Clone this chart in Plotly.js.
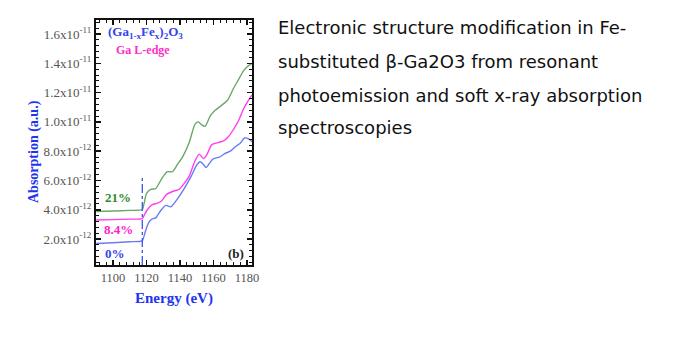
<!DOCTYPE html>
<html>
<head>
<meta charset="utf-8">
<script src="https://cdn.plot.ly/plotly-3.0.1.min.js"></script>
<style>
html,body{margin:0;padding:0;background:#fff;}
#chart{width:691px;height:358px;}
</style>
</head>
<body>
<div id="chart"></div>
<script>
// Energy (eV) and absorption (units of 1e-12)
const energy0 = [1090,1100,1110,1117.5,1118.5,1120,1121.5,1123,1125.5,1128.5,1131.5,1134.5,1138.5,1142.5,1146.5,1150,1152,1154,1155.5,1157.5,1159.5,1163.5,1167,1170,1173,1176,1178.5,1181,1183];
const abs0    = [1.70,1.75,1.82,1.88,2.2,2.75,3.15,3.35,3.45,3.95,4.3,4.2,4.75,5.45,6.25,7.05,7.28,7.1,6.88,7.15,7.45,7.6,7.85,8.0,8.3,8.55,8.9,8.85,8.65];

const energy84 = [1090,1100,1110,1117.5,1118.5,1120.5,1123.5,1126.5,1129,1132,1135.5,1139.5,1142.5,1145.5,1149,1151.5,1154,1156,1159,1163,1166,1169,1172,1175,1178,1180.5,1183];
const abs84    = [3.30,3.33,3.36,3.40,3.6,4.0,4.35,4.45,4.6,5.05,5.25,5.4,5.8,6.3,7.35,7.8,7.5,7.75,8.45,8.6,8.7,9.0,9.5,10.1,10.9,11.4,11.85];

const energy21 = [1090,1100,1110,1117.5,1118.5,1120,1122.5,1125.5,1129.5,1132.5,1135.5,1138.5,1141.5,1145.5,1149,1151,1153,1155,1158,1161,1164.5,1168.5,1172,1175,1178,1181,1183];
const abs21    = [3.88,3.92,3.96,4.02,4.4,5.1,5.4,5.45,6.2,6.6,6.6,7.1,7.6,8.6,9.85,10.0,9.8,9.7,10.4,10.8,11.1,11.5,12.3,12.9,13.5,13.85,14.0];

const edgeX = [1117.5,1117.5];
const edgeY = [0.23,6.2];

const yTickVals = [2,4,6,8,10,12,14,16];
const yTickText = ["2.0x10<sup>-12</sup>","4.0x10<sup>-12</sup>","6.0x10<sup>-12</sup>","8.0x10<sup>-12</sup>",
                   "1.0x10<sup>-11</sup>","1.2x10<sup>-11</sup>","1.4x10<sup>-11</sup>","1.6x10<sup>-11</sup>"];
const xTickVals = [1100,1120,1140,1160,1180];

const titleLines = ["Electronic structure modification in Fe-",
                    "substituted \u03B2-Ga2O3 from resonant",
                    "photoemission and soft x-ray absorption",
                    "spectroscopies"];

const S = 1e-12;
const sc = a => a.map(v => v*S);

const traces = [
  {x: energy21, y: sc(abs21), mode:'lines', line:{color:'#6aa86a', width:1.4, shape:'spline', smoothing:0.6}, name:'21%'},
  {x: energy84, y: sc(abs84), mode:'lines', line:{color:'#ff3cf0', width:1.4, shape:'spline', smoothing:0.6}, name:'8.4%'},
  {x: energy0,  y: sc(abs0),  mode:'lines', line:{color:'#6b7cf2', width:1.4, shape:'spline', smoothing:0.6}, name:'0%'},
  {x: edgeX, y: sc(edgeY), mode:'lines', line:{color:'#3a55ee', width:1.3, dash:'dashdot'}, name:'edge'}
];

const serif = 'Liberation Serif, Times New Roman, serif';
const px2x = p => (p-96)/156;
const px2y = p => (265-p)/245;

const ann = [
  {text:'(Ga<sub>1-x</sub>Fe<sub>x</sub>)<sub>2</sub>O<sub>3</sub>', x:px2x(106), y:px2y(33), xanchor:'left', yanchor:'middle',
   font:{family:serif, size:13, color:'#3344ee', weight:'bold'}},
  {text:'Ga L-edge', x:px2x(142.5), y:px2y(50), xanchor:'center', yanchor:'middle',
   font:{family:serif, size:12, color:'#ff2ec8', weight:'bold'}},
  {text:'21%', x:px2x(117.5), y:px2y(197), xanchor:'center', yanchor:'middle',
   font:{family:serif, size:13, color:'#2e8b2e', weight:'bold'}},
  {text:'8.4%', x:px2x(118.5), y:px2y(229), xanchor:'center', yanchor:'middle',
   font:{family:serif, size:13, color:'#ff22cc', weight:'bold'}},
  {text:'0%', x:px2x(115), y:px2y(253), xanchor:'center', yanchor:'middle',
   font:{family:serif, size:13, color:'#3344ee', weight:'bold'}},
  {text:'(b)', x:px2x(236), y:px2y(253), xanchor:'center', yanchor:'middle',
   font:{family:serif, size:13, color:'#222', weight:'bold'}},
  {text:'Absorption (a.u.)', x:px2x(34), y:px2y(152), textangle:-90, xanchor:'center', yanchor:'middle',
   font:{family:serif, size:14, color:'#2233ee', weight:'bold'}},
  {text:'Energy (eV)', x:px2x(174), y:px2y(298), xanchor:'center', yanchor:'middle',
   font:{family:serif, size:15, color:'#2233ee', weight:'bold'}}
];
const lineY = [28,62,95,128];
titleLines.forEach((t,i) => ann.push({text:t, x:px2x(276), y:px2y(lineY[i]), xanchor:'left', yanchor:'middle',
   font:{family:'DejaVu Sans, sans-serif', size:18, color:'#111'}}));
ann.forEach(a => {a.xref='paper'; a.yref='paper'; a.showarrow=false;});

const layout = {
  width:691, height:358,
  margin:{l:96, r:439, t:20, b:93},
  paper_bgcolor:'#fff', plot_bgcolor:'#fff',
  showlegend:false,
  xaxis:{range:[1089.85,1183], tickmode:'array', tickvals:xTickVals, showgrid:false, zeroline:false,
         showline:true, linecolor:'#111', linewidth:2, mirror:'ticks',
         ticks:'inside', ticklen:5, tickwidth:1.5, tickcolor:'#111',
         minor:{ticks:'inside', ticklen:3, tickwidth:1, tickcolor:'#111', tickmode:'linear', tick0:1100, dtick:4},
         tickfont:{family:serif, size:12.5, color:'#555'}},
  yaxis:{range:[0.23e-12,16.96e-12], tickmode:'array', tickvals:sc(yTickVals), ticktext:yTickText, showgrid:false, zeroline:false,
         showline:true, linecolor:'#111', linewidth:2, mirror:'ticks',
         ticks:'inside', ticklen:5, tickwidth:1.5, tickcolor:'#111',
         minor:{ticks:'inside', ticklen:3, tickwidth:1, tickcolor:'#111', tickmode:'linear', tick0:0, dtick:0.4e-12},
         tickfont:{family:serif, size:13, color:'#555'}},
  annotations:ann
};

Plotly.newPlot('chart', traces, layout, {displayModeBar:false, staticPlot:true});
</script>
</body>
</html>
